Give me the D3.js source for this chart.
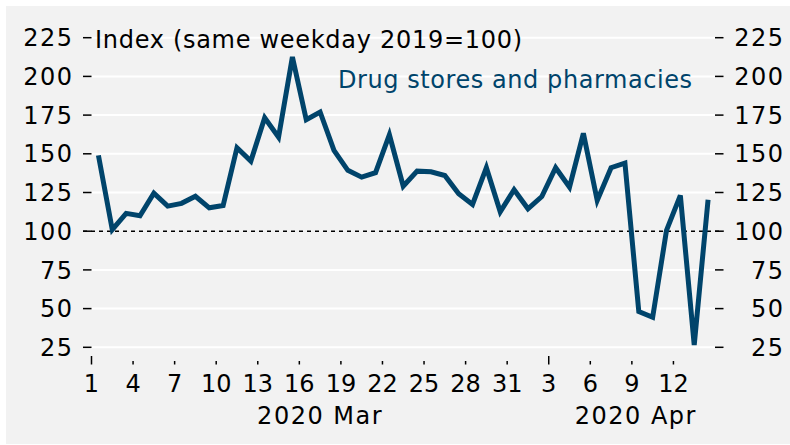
<!DOCTYPE html>
<html>
<head>
<meta charset="utf-8">
<script src="https://cdn.jsdelivr.net/npm/d3@7"></script>
<style>
	body { margin: 0; background: #fff; }
	text { font-family: "DejaVu Sans", sans-serif; }
</style>
</head>
<body>
<div id="chart"></div>
<script>
var dates = ["2020-03-01", "2020-03-02", "2020-03-03", "2020-03-04", "2020-03-05", "2020-03-06", "2020-03-07", "2020-03-08", "2020-03-09", "2020-03-10",
	"2020-03-11", "2020-03-12", "2020-03-13", "2020-03-14", "2020-03-15", "2020-03-16", "2020-03-17", "2020-03-18", "2020-03-19", "2020-03-20",
	"2020-03-21", "2020-03-22", "2020-03-23", "2020-03-24", "2020-03-25", "2020-03-26", "2020-03-27", "2020-03-28", "2020-03-29", "2020-03-30",
	"2020-03-31", "2020-04-01", "2020-04-02", "2020-04-03", "2020-04-04", "2020-04-05", "2020-04-06", "2020-04-07", "2020-04-08", "2020-04-09",
	"2020-04-10", "2020-04-11", "2020-04-12", "2020-04-13", "2020-04-14"];
var drugstores = [149, 101, 111.5, 110, 124.6, 116.2, 118, 122.6, 115.1, 116.6,
	153.9, 145.3, 173.3, 160.8, 212.5, 172, 177, 152.2, 139.3, 134.9,
	137.8, 162.3, 129.1, 138.8, 138.4, 136, 124.2, 117.3, 141, 112.5,
	126.8, 114.5, 122.4, 141, 128.5, 163.2, 119.9, 141, 144, 48.1,
	44.4, 100.5, 123.1, 26.5, 120.3];
var yTicks = [25, 50, 75, 100, 125, 150, 175, 200, 225];
var xTicks = ["2020-03-01", "2020-03-04", "2020-03-07", "2020-03-10", "2020-03-13", "2020-03-16", "2020-03-19", "2020-03-22", "2020-03-25", "2020-03-28",
	"2020-03-31", "2020-04-03", "2020-04-06", "2020-04-09", "2020-04-12"];
var months = [{label: "2020 Mar", from: "2020-03-01", to: "2020-04-03"}, {label: "2020 Apr", from: "2020-04-03", to: "2020-04-16"}];
var title = "Index (same weekday 2019=100)";
var seriesName = "Drug stores and pharmacies";

var width = 790, height = 445;
var navy = "#00446b";
var parse = d3.utcParse("%Y-%m-%d");

var svg = d3.select("#chart").append("svg")
	.attr("width", width)
	.attr("height", height);

svg.append("rect")
	.attr("x", 6).attr("y", 6)
	.attr("width", width - 6).attr("height", height - 7)
	.attr("fill", "#f2f2f2");

var x = d3.scaleUtc()
	.domain([parse("2020-03-01"), parse("2020-04-15")])
	.range([91.5, 715]);
var y = d3.scaleLinear()
	.domain([25, 225])
	.range([347.3, 37.7]);

// gridlines
svg.append("g").selectAll("line")
	.data(yTicks.filter(d => d !== 100))
	.enter().append("line")
	.attr("x1", x.range()[0]).attr("x2", x.range()[1])
	.attr("y1", d => y(d)).attr("y2", d => y(d))
	.attr("stroke", "#fff")
	.attr("stroke-width", 2);

// left and right y axes
var yLeft = svg.append("g");
yLeft.selectAll("line").data(yTicks).enter().append("line")
	.attr("x1", 83).attr("x2", 91.5)
	.attr("y1", d => y(d)).attr("y2", d => y(d))
	.attr("stroke", "#000").attr("stroke-width", 1.5);
yLeft.selectAll("text").data(yTicks).enter().append("text")
	.attr("x", 73.5).attr("y", d => y(d))
	.attr("dy", "0.36em")
	.attr("text-anchor", "end")
	.attr("font-size", 24)
	.attr("letter-spacing", 1.5)
	.text(d => d);

var yRight = svg.append("g");
yRight.selectAll("line").data(yTicks).enter().append("line")
	.attr("x1", 715).attr("x2", 723.5)
	.attr("y1", d => y(d)).attr("y2", d => y(d))
	.attr("stroke", "#000").attr("stroke-width", 1.5);
yRight.selectAll("text").data(yTicks).enter().append("text")
	.attr("x", 784.5).attr("y", d => y(d))
	.attr("dy", "0.36em")
	.attr("text-anchor", "end")
	.attr("font-size", 24)
	.attr("letter-spacing", 1.5)
	.text(d => d);

// reference line at 100
svg.append("line")
	.attr("x1", 83).attr("x2", 723.5)
	.attr("y1", y(100)).attr("y2", y(100))
	.attr("stroke", "#000")
	.attr("stroke-width", 1.5)
	.attr("stroke-dasharray", "4,4");

// x axis ticks
var firstOfMonth = months.map(m => m.from);
var xAxis = svg.append("g");
xAxis.selectAll("line").data(xTicks).enter().append("line")
	.attr("x1", d => x(parse(d))).attr("x2", d => x(parse(d)))
	.attr("y1", d => firstOfMonth.includes(d) ? 356 : 361)
	.attr("y2", 364.5)
	.attr("stroke", "#000").attr("stroke-width", 1.5);
xAxis.selectAll("text").data(xTicks).enter().append("text")
	.attr("x", d => x(parse(d)))
	.attr("y", 392)
	.attr("text-anchor", "middle")
	.attr("font-size", 24)
	.text(d => parse(d).getUTCDate());

svg.append("g").selectAll("text").data(months).enter().append("text")
	.attr("x", d => (x(parse(d.from)) + Math.min(x(parse(d.to)), 723)) / 2)
	.attr("y", 424)
	.attr("text-anchor", "middle")
	.attr("font-size", 24)
	.attr("letter-spacing", 1.5)
	.text(d => d.label);

// series
var line = d3.line()
	.x((d, i) => x(d3.utcHour.offset(parse(dates[i]), 12)))
	.y(d => y(d));

svg.append("path")
	.datum(drugstores)
	.attr("d", line)
	.attr("fill", "none")
	.attr("stroke", navy)
	.attr("stroke-width", 5);

svg.append("text")
	.attr("x", 95).attr("y", 48)
	.attr("font-size", 24)
	.attr("textLength", 427)
	.attr("lengthAdjust", "spacing")
	.text(title);

svg.append("text")
	.attr("x", 338).attr("y", 88)
	.attr("font-size", 24)
	.attr("fill", navy)
	.attr("textLength", 354)
	.attr("lengthAdjust", "spacing")
	.text(seriesName);
</script>
</body>
</html>
